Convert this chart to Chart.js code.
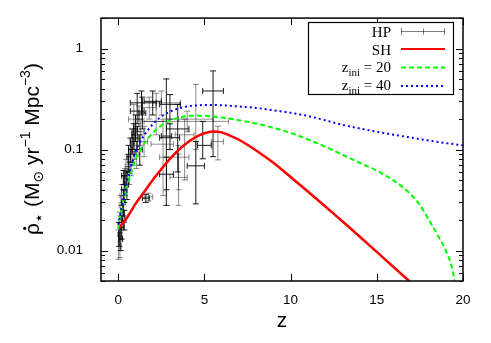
<!DOCTYPE html>
<html><head><meta charset="utf-8">
<script src="https://cdn.jsdelivr.net/npm/chart.js@4/dist/chart.umd.min.js"></script>
<style>html,body{margin:0;padding:0;background:#fff}#wrap{width:491px;height:343px;position:relative}</style>
</head><body><div id="wrap"><canvas id="c" width="491" height="343"></canvas></div>
<script>
// ---- tick labels ----
const xTickValues = [0, 5, 10, 15, 20];
const yTickValues = [0.01, 0.1, 1];

// ---- HP data (Hopkins compilation): centre, ranges ----
const hpZ    = [0.02,0.05,0.1,0.15,0.1,0.2,0.25,0.3,0.2,0.35,0.4,0.3,0.45,0.5,0.55,0.6,0.65,0.7,0.75,0.8,0.85,0.9,0.95,1.0,1.05,1.1,1.2,1.25,1.3,1.4,1.5,1.1,0.9,1.35,1.75,1.6,0.15,0.35,
                1.8,2.0,2.2,2.79,2.5,3.0,2.6,3.0,3.5,2.8,3.5,3.45,3.85,4.5,4.5,4.9,5.78,5.5,4.0];
const hpRate = [0.012,0.0145,0.011,0.013,0.019,0.017,0.024,0.03,0.035,0.04,0.048,0.055,0.06,0.045,0.068,0.085,0.06,0.1,0.075,0.12,0.095,0.14,0.11,0.16,0.09,0.13,0.2,0.1,0.15,0.23,0.12,0.24,0.2,0.29,0.034,0.033,0.028,0.02,
                0.26,0.3,0.19,0.136,0.29,0.28,0.113,0.131,0.084,0.057,0.053,0.16,0.14,0.069,0.2,0.11,0.12,0.38,0.19];
const hpZlo  = [0.0,0.0,0.05,0.05,0.0,0.1,0.15,0.2,0.1,0.2,0.3,0.2,0.35,0.4,0.4,0.5,0.5,0.6,0.6,0.7,0.7,0.8,0.8,0.9,0.9,1.0,1.0,1.1,1.1,1.2,1.3,0.7,0.6,0.7,1.5,1.4,0.05,0.25,
                1.4,1.5,1.4,2.5,2.0,2.4,1.9,2.4,2.4,2.4,3.0,2.8,3.3,4.0,3.5,4.6,5.4,4.9,1.5];
const hpZhi  = [0.05,0.1,0.15,0.25,0.2,0.3,0.35,0.4,0.3,0.5,0.5,0.4,0.55,0.6,0.7,0.7,0.8,0.8,0.9,0.9,1.0,1.0,1.1,1.1,1.2,1.2,1.4,1.4,1.5,1.6,1.7,1.5,1.2,2.2,2.0,1.8,0.25,0.45,
                2.2,2.5,3.0,3.1,3.6,3.6,3.2,3.56,4.1,3.2,4.0,4.1,4.4,5.0,5.5,5.4,6.1,6.1,6.4];
const hpRlo  = [0.0082,0.011,0.0085,0.010,0.015,0.013,0.019,0.022,0.028,0.03,0.035,0.045,0.045,0.032,0.05,0.06,0.045,0.075,0.055,0.09,0.07,0.1,0.08,0.12,0.065,0.1,0.15,0.07,0.11,0.16,0.085,0.18,0.14,0.22,0.031,0.03,0.022,0.016,
                0.2,0.22,0.14,0.028,0.22,0.2,0.035,0.1,0.04,0.04,0.028,0.06,0.05,0.029,0.1,0.081,0.079,0.085,0.15];
const hpRhi  = [0.016,0.019,0.014,0.017,0.024,0.022,0.03,0.04,0.045,0.055,0.065,0.062,0.08,0.06,0.09,0.11,0.075,0.13,0.1,0.16,0.13,0.18,0.15,0.22,0.12,0.17,0.27,0.14,0.2,0.33,0.17,0.36,0.28,0.38,0.037,0.036,0.035,0.025,
                0.33,0.38,0.36,0.5,0.38,0.35,0.2,0.18,0.11,0.084,0.09,0.28,0.2,0.12,0.44,0.19,0.17,0.6,0.24];

// ---- SH model ----
const shZ    = [0,0.5,1,1.5,2,2.5,3,3.5,4,4.5,5,5.5,6,6.5,7,8,9,10,11,12,13,14,15,16,17];
const shRate = [0.0165,0.021,0.029,0.038,0.05,0.064,0.081,0.099,0.117,0.133,0.145,0.151,0.148,0.137,0.125,0.098,0.074,0.0535,0.0385,0.0275,0.0195,0.0138,0.0097,0.0068,0.0048];

// ---- z_ini = 20 ----
const z20Z    = [0,0.1,0.3,0.5,0.7,1,1.25,1.5,2,2.5,3,3.5,4,4.5,5,6,7,8,9,10,11,12,13,14,15,16,16.7,17,17.5,18,18.5,19,19.3,19.5,19.7];
const z20Rate = [0.0165,0.021,0.031,0.043,0.057,0.08,0.097,0.114,0.146,0.173,0.193,0.206,0.214,0.217,0.216,0.208,0.195,0.181,0.164,0.146,0.126,0.107,0.089,0.074,0.0617,0.049,0.0398,0.0355,0.0282,0.0204,0.0146,0.01,0.0074,0.0052,0.0032];

// ---- z_ini = 40 ----
const z40Z    = [0,0.1,0.3,0.5,0.7,1,1.25,1.5,2,2.5,3,3.5,4,4.5,5,5.5,6,7,8,9,10,11,12,13,14,15,16,17,18,19,20];
const z40Rate = [0.018,0.022,0.033,0.048,0.064,0.095,0.118,0.138,0.178,0.212,0.237,0.255,0.267,0.273,0.276,0.276,0.274,0.267,0.258,0.245,0.231,0.215,0.195,0.176,0.162,0.15,0.14,0.131,0.123,0.116,0.11];

const pts = (xs, ys) => xs.map((x, i) => ({x, y: ys[i]}));
const SANS = '"Liberation Sans", "DejaVu Sans", Arial, sans-serif';
const SERIF = '"Liberation Serif", "DejaVu Serif", serif';

function drawPieces(ctx, pieces, x0, y0, family) {
  let x = x0;
  for (const p of pieces) {
    ctx.font = p.s + 'px ' + family;
    const w = ctx.measureText(p.t).width;
    ctx.fillText(p.t, x, y0 + (p.dy || 0));
    if (p.dot) {
      // dot accent centred above the glyph
      ctx.beginPath();
      ctx.arc(x + w * 0.55, y0 - p.s * 0.68, p.s * 0.075, 0, Math.PI * 2);
      ctx.fill();
    }
    x += w;
  }
}
function piecesWidth(ctx, pieces, family) {
  let w = 0;
  for (const p of pieces) { ctx.font = p.s + 'px ' + family; w += ctx.measureText(p.t).width; }
  return w;
}

const decor = {
  id: 'decor',
  beforeDatasetsDraw(chart) {
    const {ctx, chartArea: a, scales: {x, y}} = chart;
    ctx.save();
    ctx.beginPath(); ctx.rect(a.left, a.top, a.right - a.left, a.bottom - a.top); ctx.clip();
    ctx.lineWidth = 1;
    const cap = 3;
    for (let i = 0; i < hpZ.length; i++) {
      ctx.strokeStyle = (i % 2) ? 'rgba(0,0,0,0.9)' : 'rgba(0,0,0,0.45)';
      const px = x.getPixelForValue(hpZ[i]), py = y.getPixelForValue(hpRate[i]);
      const x1 = x.getPixelForValue(hpZlo[i]), x2 = x.getPixelForValue(hpZhi[i]);
      const y1 = y.getPixelForValue(hpRlo[i]), y2 = y.getPixelForValue(hpRhi[i]);
      ctx.beginPath();
      ctx.moveTo(x1, py); ctx.lineTo(x2, py);
      ctx.moveTo(x1, py - cap); ctx.lineTo(x1, py + cap);
      ctx.moveTo(x2, py - cap); ctx.lineTo(x2, py + cap);
      ctx.moveTo(px, y1); ctx.lineTo(px, y2);
      ctx.moveTo(px - cap, y1); ctx.lineTo(px + cap, y1);
      ctx.moveTo(px - cap, y2); ctx.lineTo(px + cap, y2);
      ctx.stroke();
    }
    ctx.restore();
  },
  afterDatasetsDraw(chart) {
    const {ctx, chartArea: a, scales: {x, y}} = chart;
    ctx.save();
    ctx.strokeStyle = '#000'; ctx.fillStyle = '#000';
    // ticks (inward, mirrored)
    ctx.lineWidth = 1;
    ctx.beginPath();
    for (const v of xTickValues) {
      const px = Math.round(x.getPixelForValue(v)) + 0.5;
      ctx.moveTo(px, a.bottom); ctx.lineTo(px, a.bottom - 7);
      ctx.moveTo(px, a.top); ctx.lineTo(px, a.top + 7);
    }
    for (const d of [0.001, 0.01, 0.1, 1]) {
      for (let m = 1; m <= 9; m++) {
        const v = m * d;
        if (v < y.min - 1e-12 || v > y.max + 1e-12) continue;
        const py = Math.round(y.getPixelForValue(v)) + 0.5;
        const len = m === 1 ? 7 : 4;
        ctx.moveTo(a.left, py); ctx.lineTo(a.left + len, py);
        ctx.moveTo(a.right, py); ctx.lineTo(a.right - len, py);
      }
    }
    ctx.stroke();
    // frame
    ctx.lineWidth = 1.5;
    ctx.strokeRect(a.left, a.top, a.right - a.left, a.bottom - a.top);

    // legend
    ctx.lineWidth = 1.2;
    ctx.fillStyle = '#fff';
    ctx.fillRect(308.5, 22.5, 145, 72);
    ctx.strokeStyle = '#000';
    ctx.strokeRect(308.5, 22.5, 145, 72);
    ctx.fillStyle = '#000';
    ctx.textBaseline = 'alphabetic';
    const right = 391;
    const rows = [
      {pieces: [{t: 'HP', s: 15}], base: 36.5},
      {pieces: [{t: 'SH', s: 15}], base: 54.5},
      {pieces: [{t: 'z', s: 15}, {t: 'ini', s: 11, dy: 4}, {t: ' = 20', s: 15}], base: 72},
      {pieces: [{t: 'z', s: 15}, {t: 'ini', s: 11, dy: 4}, {t: ' = 40', s: 15}], base: 90}
    ];
    for (const r of rows) {
      const w = piecesWidth(ctx, r.pieces, SERIF);
      drawPieces(ctx, r.pieces, right - w, r.base, SERIF);
    }
    const sx1 = 401, sx2 = 445;
    // HP sample
    ctx.strokeStyle = 'rgba(0,0,0,0.5)'; ctx.lineWidth = 1; ctx.setLineDash([]);
    ctx.beginPath();
    ctx.moveTo(sx1, 31.5); ctx.lineTo(sx2, 31.5);
    ctx.moveTo(sx1 + 0.5, 28); ctx.lineTo(sx1 + 0.5, 35);
    ctx.moveTo(sx2 - 0.5, 28); ctx.lineTo(sx2 - 0.5, 35);
    ctx.moveTo(423.5, 28.5); ctx.lineTo(423.5, 34.5);
    ctx.stroke();
    // SH sample
    ctx.strokeStyle = '#ff0000'; ctx.lineWidth = 2.2;
    ctx.beginPath(); ctx.moveTo(sx1, 49); ctx.lineTo(sx2, 49); ctx.stroke();
    // z20
    ctx.strokeStyle = '#00ff00'; ctx.lineWidth = 2; ctx.setLineDash([5, 3]);
    ctx.beginPath(); ctx.moveTo(sx1, 67.5); ctx.lineTo(sx2, 67.5); ctx.stroke();
    // z40
    ctx.strokeStyle = '#0000ff'; ctx.lineWidth = 2; ctx.setLineDash([2, 3]);
    ctx.beginPath(); ctx.moveTo(sx1, 86); ctx.lineTo(sx2 - 2, 86); ctx.stroke();
    ctx.setLineDash([]);

    // x title
    ctx.fillStyle = '#000';
    ctx.font = '21px ' + SANS;
    ctx.textAlign = 'center';
    ctx.fillText('z', 282, 327);
    // y title (rotated)
    ctx.textAlign = 'left';
    const yt = [
      {t: 'ρ', s: 21, dot: true}, {t: '\u22C6', s: 16, dy: 5},
      {t: ' (M', s: 21}, {t: '\u2299', s: 14, dy: 4},
      {t: ' yr', s: 21}, {t: '\u22121', s: 14, dy: -9},
      {t: ' Mpc', s: 21}, {t: '\u22123', s: 14, dy: -9},
      {t: ')', s: 21}
    ];
    ctx.translate(39, 149);
    ctx.rotate(-Math.PI / 2);
    const tw = piecesWidth(ctx, yt, SANS);
    drawPieces(ctx, yt, -tw / 2, 0, SANS);
    ctx.restore();
  }
};

new Chart(document.getElementById('c'), {
  type: 'scatter',
  data: {
    datasets: [
      {label: 'HP', data: pts(hpZ, hpRate), pointRadius: 0, showLine: false, borderColor: 'rgba(0,0,0,0.5)', backgroundColor: 'rgba(0,0,0,0.5)', order: 4},
      {label: 'SH', data: pts(shZ, shRate), showLine: true, pointRadius: 0, borderColor: '#ff0000', borderWidth: 2.5, cubicInterpolationMode: 'monotone', order: 3},
      {label: 'z_ini = 20', data: pts(z20Z, z20Rate), showLine: true, pointRadius: 0, borderColor: '#00ff00', borderWidth: 2, borderDash: [5, 3], cubicInterpolationMode: 'monotone', order: 2},
      {label: 'z_ini = 40', data: pts(z40Z, z40Rate), showLine: true, pointRadius: 0, borderColor: '#0000ff', borderWidth: 2, borderDash: [2, 3], cubicInterpolationMode: 'monotone', order: 1}
    ]
  },
  options: {
    responsive: false,
    devicePixelRatio: 1,
    animation: false,
    layout: {padding: {left: 0, top: 15, right: 28, bottom: 0}},
    plugins: {legend: {display: false}, tooltip: {enabled: false}, title: {display: false}},
    scales: {
      x: {
        type: 'linear', min: -1, max: 20,
        afterBuildTicks: s => { s.ticks = xTickValues.map(v => ({value: v})); },
        afterFit: s => { s.height = 62; },
        grid: {display: false}, border: {display: false},
        ticks: {color: '#000', font: {family: SANS, size: 13.5}, padding: 3, maxRotation: 0, callback: v => String(v)}
      },
      y: {
        type: 'logarithmic', min: 0.005, max: 2,
        afterBuildTicks: s => { s.ticks = yTickValues.map(v => ({value: v})); },
        afterFit: s => { s.width = 101; },
        grid: {display: false}, border: {display: false},
        ticks: {color: '#000', font: {family: SANS, size: 13.5}, padding: 10, callback: v => String(v)}
      }
    }
  },
  plugins: [decor]
});
</script>
</body></html>
